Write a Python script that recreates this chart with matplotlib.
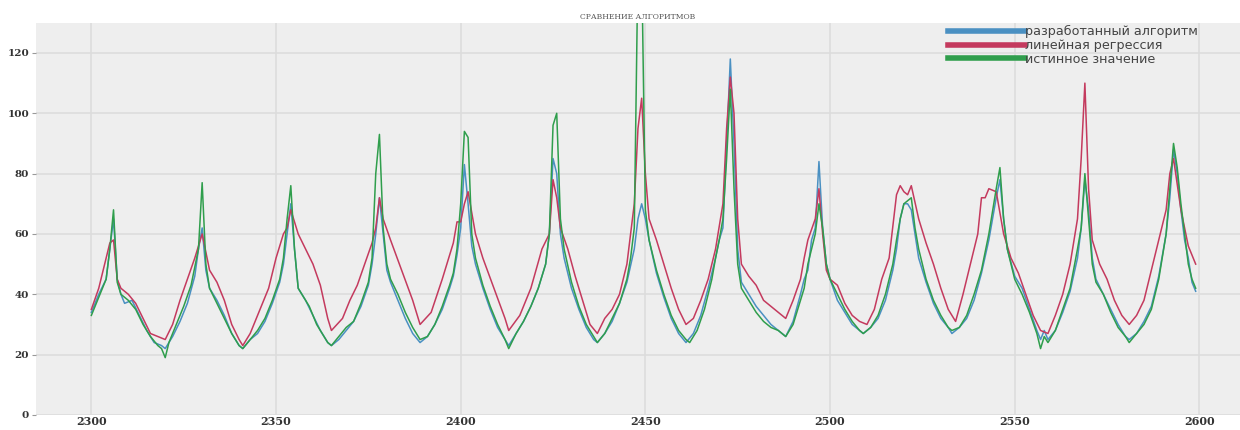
import matplotlib.pyplot as plt
from matplotlib.lines import Line2D

# values (x = sample index, y = value)
blue_x = [2300, 2302, 2304, 2305, 2306, 2307, 2308, 2309, 2311, 2313, 2315, 2317, 2319, 2320, 2322, 2324, 2326, 2328, 2329, 2330,
          2331, 2332, 2334, 2336, 2338, 2340, 2341, 2343, 2345, 2347, 2349, 2351, 2352, 2353, 2354, 2355, 2356, 2358, 2360, 2362,
          2364, 2365, 2367, 2369, 2371, 2373, 2375, 2376, 2377, 2378, 2379, 2380, 2381, 2383, 2385, 2387, 2389, 2391, 2393, 2395,
          2397, 2398, 2399, 2400, 2401, 2402, 2403, 2404, 2406, 2408, 2410, 2412, 2413, 2415, 2417, 2419, 2421, 2423, 2424, 2425,
          2426, 2427, 2428, 2430, 2432, 2434, 2436, 2437, 2439, 2441, 2443, 2445, 2447, 2448, 2449, 2450, 2451, 2453, 2455, 2457,
          2459, 2461, 2463, 2465, 2467, 2469, 2470, 2471, 2472, 2473, 2474, 2475, 2476, 2478, 2480, 2482, 2484, 2486, 2488, 2490,
          2492, 2493, 2494, 2495, 2496, 2497, 2498, 2499, 2500, 2502, 2504, 2506, 2508, 2509, 2511, 2513, 2515, 2517, 2518, 2519,
          2520, 2521, 2522, 2523, 2524, 2526, 2528, 2530, 2532, 2533, 2535, 2537, 2539, 2541, 2543, 2545, 2546, 2547, 2548, 2550,
          2552, 2554, 2556, 2557, 2558, 2559, 2561, 2563, 2565, 2567, 2568, 2569, 2570, 2571, 2572, 2574, 2576, 2578, 2580, 2581,
          2583, 2585, 2587, 2589, 2591, 2592, 2593, 2594, 2595, 2596, 2597, 2598, 2599]
blue_y = [34, 40, 45, 55, 65, 45, 40, 37, 38, 33, 28, 24, 23, 22, 26, 31, 37, 46, 55, 62,
          48, 42, 38, 33, 27, 23, 22, 25, 27, 31, 37, 44, 50, 60, 70, 55, 42, 38, 33, 28,
          24, 23, 25, 28, 31, 36, 43, 50, 60, 72, 60, 48, 44, 38, 32, 27, 24, 26, 30, 35,
          42, 46, 53, 62, 83, 70, 56, 50, 42, 35, 29, 25, 23, 27, 31, 36, 42, 50, 60, 85,
          80, 60, 52, 42, 35, 29, 25, 24, 27, 31, 37, 44, 55, 65, 70, 65, 58, 47, 39, 32,
          27, 24, 27, 33, 42, 52, 58, 62, 90, 118, 90, 55, 44, 40, 36, 33, 30, 28, 26, 31,
          40, 45, 48, 58, 62, 84, 62, 50, 45, 38, 34, 30, 28, 27, 29, 32, 38, 48, 55, 65,
          70, 70, 68, 60, 52, 44, 37, 32, 29, 27, 29, 32, 38, 47, 58, 72, 78, 65, 55, 46,
          42, 35, 28, 25, 28, 25, 28, 34, 41, 52, 62, 78, 68, 52, 45, 40, 35, 30, 26, 25,
          27, 31, 36, 46, 60, 72, 88, 80, 68, 58, 52, 44, 41]

red_x = [2300, 2302, 2304, 2305, 2306, 2307, 2308, 2310, 2312, 2314, 2316, 2318, 2320, 2322, 2324, 2326, 2328, 2330, 2332, 2334,
         2336, 2338, 2340, 2341, 2343, 2345, 2348, 2350, 2352, 2353, 2354, 2356, 2358, 2360, 2362, 2364, 2365, 2368, 2370, 2372,
         2374, 2376, 2377, 2378, 2379, 2381, 2384, 2387, 2389, 2392, 2395, 2398, 2399, 2400, 2401, 2402, 2404, 2406, 2409, 2412,
         2413, 2416, 2419, 2422, 2424, 2425, 2426, 2427, 2429, 2431, 2433, 2435, 2437, 2439, 2441, 2443, 2445, 2447, 2448, 2449,
         2450, 2451, 2453, 2455, 2457, 2459, 2461, 2463, 2465, 2467, 2469, 2471, 2472, 2473, 2474, 2475, 2476, 2478, 2480, 2482,
         2484, 2486, 2488, 2490, 2492, 2493, 2494, 2496, 2497, 2498, 2499, 2500, 2502, 2504, 2506, 2508, 2510, 2512, 2514, 2516,
         2518, 2519, 2520, 2521, 2522, 2524, 2526, 2528, 2530, 2532, 2534, 2536, 2538, 2540, 2541, 2542, 2543, 2545, 2547, 2549,
         2551, 2553, 2555, 2557, 2559, 2561, 2563, 2565, 2567, 2568, 2569, 2570, 2571, 2573, 2575, 2577, 2579, 2581, 2583, 2585,
         2587, 2589, 2591, 2592, 2593, 2595, 2597, 2599]
red_y = [35, 42, 52, 57, 58, 45, 42, 40, 37, 32, 27, 26, 25, 30, 38, 45, 52, 60, 48, 44,
         38, 30, 25, 23, 27, 33, 42, 52, 60, 62, 68, 60, 55, 50, 43, 32, 28, 32, 38, 43,
         50, 57, 62, 72, 65, 58, 48, 38, 30, 34, 45, 57, 64, 64, 70, 74, 60, 52, 42, 32,
         28, 33, 42, 55, 60, 78, 72, 62, 55, 46, 38, 30, 27, 32, 35, 40, 50, 70, 95, 105,
         80, 65, 58, 50, 42, 35, 30, 32, 38, 45, 55, 70, 95, 112, 100, 65, 50, 46, 43, 38,
         36, 34, 32, 38, 45, 52, 58, 65, 75, 60, 48, 45, 43, 37, 33, 31, 30, 35, 45, 52,
         73, 76, 74, 73, 76, 65, 57, 50, 42, 35, 31, 40, 50, 60, 72, 72, 75, 74, 60, 52,
         47, 40, 33, 28, 27, 33, 40, 50, 65, 85, 110, 75, 58, 50, 45, 38, 33, 30, 33, 38,
         48, 58, 68, 80, 85, 68, 56, 50]

green_x = [2300, 2303, 2304, 2305, 2306, 2307, 2308, 2310, 2312, 2314, 2316, 2318, 2319, 2320, 2321, 2323, 2325, 2327, 2329, 2330,
           2331, 2332, 2334, 2336, 2338, 2340, 2341, 2343, 2345, 2347, 2349, 2351, 2352, 2353, 2354, 2355, 2356, 2357, 2359, 2361,
           2363, 2364, 2365, 2367, 2369, 2371, 2373, 2375, 2376, 2377, 2378, 2379, 2380, 2381, 2383, 2385, 2387, 2389, 2391, 2393,
           2395, 2397, 2398, 2399, 2400, 2401, 2402, 2403, 2404, 2406, 2408, 2410, 2412, 2413, 2415, 2417, 2419, 2421, 2423, 2424,
           2425, 2426, 2427, 2428, 2430, 2432, 2434, 2436, 2437, 2439, 2441, 2443, 2445, 2446, 2447, 2448, 2449, 2450, 2451, 2453,
           2455, 2457, 2459, 2461, 2462, 2464, 2466, 2468, 2469, 2470, 2471, 2472, 2473, 2474, 2475, 2476, 2478, 2480, 2482, 2484,
           2486, 2488, 2490, 2492, 2493, 2494, 2495, 2496, 2497, 2498, 2499, 2500, 2502, 2504, 2506, 2508, 2509, 2511, 2513, 2515,
           2517, 2518, 2519, 2520, 2521, 2522, 2523, 2524, 2526, 2528, 2530, 2532, 2533, 2535, 2537, 2539, 2541, 2543, 2545, 2546,
           2547, 2548, 2550, 2552, 2554, 2556, 2557, 2558, 2559, 2561, 2563, 2565, 2567, 2568, 2569, 2570, 2571, 2572, 2574, 2576,
           2578, 2580, 2581, 2583, 2585, 2587, 2589, 2591, 2592, 2593, 2594, 2595, 2596, 2597, 2598, 2599]
green_y = [33, 42, 45, 55, 68, 44, 40, 38, 35, 30, 26, 23, 22, 19, 24, 30, 36, 43, 55, 77,
           50, 42, 37, 32, 27, 23, 22, 25, 28, 32, 38, 45, 52, 65, 76, 55, 42, 40, 36, 30,
           26, 24, 23, 26, 29, 31, 37, 44, 52, 80, 93, 62, 50, 45, 40, 34, 29, 25, 26, 30,
           36, 43, 47, 55, 70, 94, 92, 60, 52, 43, 36, 30, 25, 22, 27, 31, 36, 42, 50, 60,
           96, 100, 65, 55, 44, 36, 30, 26, 24, 27, 32, 37, 45, 52, 62, 150, 150, 68, 58, 48,
           40, 33, 28, 25, 24, 28, 35, 45, 52, 58, 65, 85, 108, 75, 50, 42, 38, 34, 31, 29,
           28, 26, 30, 38, 42, 50, 55, 60, 70, 62, 50, 45, 40, 35, 31, 28, 27, 29, 33, 40,
           50, 58, 65, 70, 71, 72, 62, 55, 45, 38, 33, 29, 28, 29, 33, 40, 48, 60, 75, 82,
           65, 55, 45, 40, 34, 27, 22, 26, 24, 28, 35, 42, 55, 62, 80, 65, 50, 44, 40, 34,
           29, 26, 24, 27, 30, 35, 45, 60, 75, 90, 82, 70, 60, 50, 45, 42]

labels = ["разработанный алгоритм", "линейная регрессия", "истинное значение"]
colors = ["#4a90c2", "#c43a5e", "#2f9e4c"]

fig = plt.figure(figsize=(12.4, 4.3), dpi=100)
ax = fig.add_axes([0.029, 0.035, 0.971, 0.912])
ax.set_facecolor("#eeeeee")
fig.patch.set_facecolor("white")

ax.plot(blue_x, blue_y, color=colors[0], lw=1.1)
ax.plot(red_x, red_y, color=colors[1], lw=1.1)
ax.plot(green_x, green_y, color=colors[2], lw=1.1)

ax.set_xlim(2285, 2611)
ax.set_ylim(0, 130)
ax.set_xticks([2300, 2350, 2400, 2450, 2500, 2550, 2600])
ax.set_yticks([0, 20, 40, 60, 80, 100, 120])
ax.grid(True, color="#dcdcdc", lw=1.2)
ax.set_axisbelow(True)
for s in ax.spines.values():
    s.set_visible(False)
ax.tick_params(axis="y", length=3, color="#999999", pad=2)
ax.tick_params(axis="x", length=0, pad=1)
for lab in ax.get_xticklabels():
    lab.set_fontfamily("DejaVu Serif")
    lab.set_fontweight("bold")
    lab.set_fontsize(8)
    lab.set_color("#333333")
for lab in ax.get_yticklabels():
    lab.set_fontfamily("DejaVu Serif")
    lab.set_fontweight("bold")
    lab.set_fontsize(7.5)
    lab.set_color("#333333")

ax.set_title("СРАВНЕНИЕ АЛГОРИТМОВ", fontsize=5.5, family="DejaVu Serif",
             color="#555555", pad=3)

handles = [Line2D([], [], color=c, lw=4) for c in colors]
ax.legend(handles, labels, loc="upper right", frameon=False, fontsize=9.2,
          handlelength=6, handletextpad=0.0, labelspacing=0.05,
          borderaxespad=0.1, bbox_to_anchor=(0.97, 1.01), labelcolor="#444444")

fig.savefig("out.png", dpi=100)
